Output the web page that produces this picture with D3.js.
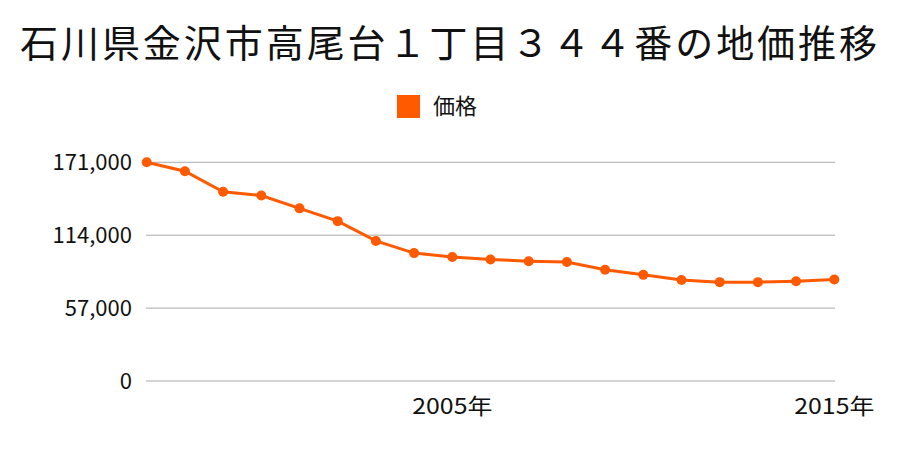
<!DOCTYPE html>
<html><head><meta charset="utf-8">
<script src="https://cdn.jsdelivr.net/npm/d3@7"></script>
<style>body{margin:0;background:#fff}text{font-family:"Noto Sans CJK JP","Noto Sans",sans-serif}</style>
</head><body><svg id="c" width="900" height="450"></svg>
<script>
const years = [1997,1998,1999,2000,2001,2002,2003,2004,2005,2006,2007,2008,2009,2010,2011,2012,2013,2014,2015];
const prices = [171000,164000,148000,145000,135000,125000,109500,100000,97000,95000,93700,93000,87000,83000,79000,77300,77300,78000,79300];
const yTicks = [0,57000,114000,171000];
const xTicks = [2005,2015];
const title = "石川県金沢市高尾台１丁目３４４番の地価推移";
const seriesName = "価格";
const color = "#ff5a00";

const svg = d3.select("#c");
const x = d3.scaleLinear().domain([1997,2015]).range([146.7,834.3]);
const y = d3.scaleLinear().domain([0,171000]).range([381,162.3]);

svg.append("text").attr("x",20).attr("y",57).attr("font-size",38).attr("fill","#111")
  .attr("textLength",857).attr("lengthAdjust","spacing").text(title);
svg.append("rect").attr("x",397).attr("y",95).attr("width",23).attr("height",23).attr("fill",color);
svg.append("text").attr("x",433).attr("y",114).attr("font-size",22).attr("fill","#111").text(seriesName);

svg.append("g").selectAll("line").data(yTicks).join("line")
  .attr("x1",146).attr("x2",835).attr("y1",d=>y(d)).attr("y2",d=>y(d))
  .attr("stroke","#aaa").attr("stroke-width",1);
svg.append("g").selectAll("text").data(yTicks).join("text")
  .attr("x",132).attr("y",d=>y(d)+8).attr("text-anchor","end").attr("font-size",22).attr("fill","#111")
  .text(d=>d3.format(",")(d));
svg.append("g").selectAll("text").data(xTicks).join("text")
  .attr("x",d=>x(d)-40).attr("y",414).attr("font-size",22).attr("fill","#111")
  .attr("textLength",80).attr("lengthAdjust","spacingAndGlyphs")
  .text(d=>d+"年");

const pts = years.map((yr,i)=>[yr,prices[i]]);
svg.append("path").datum(pts).attr("fill","none").attr("stroke",color).attr("stroke-width",3)
  .attr("d",d3.line().x(d=>x(d[0])).y(d=>y(d[1])));
svg.append("g").selectAll("circle").data(pts).join("circle")
  .attr("cx",d=>x(d[0])).attr("cy",d=>y(d[1])).attr("r",5).attr("fill",color);
</script></body></html>
